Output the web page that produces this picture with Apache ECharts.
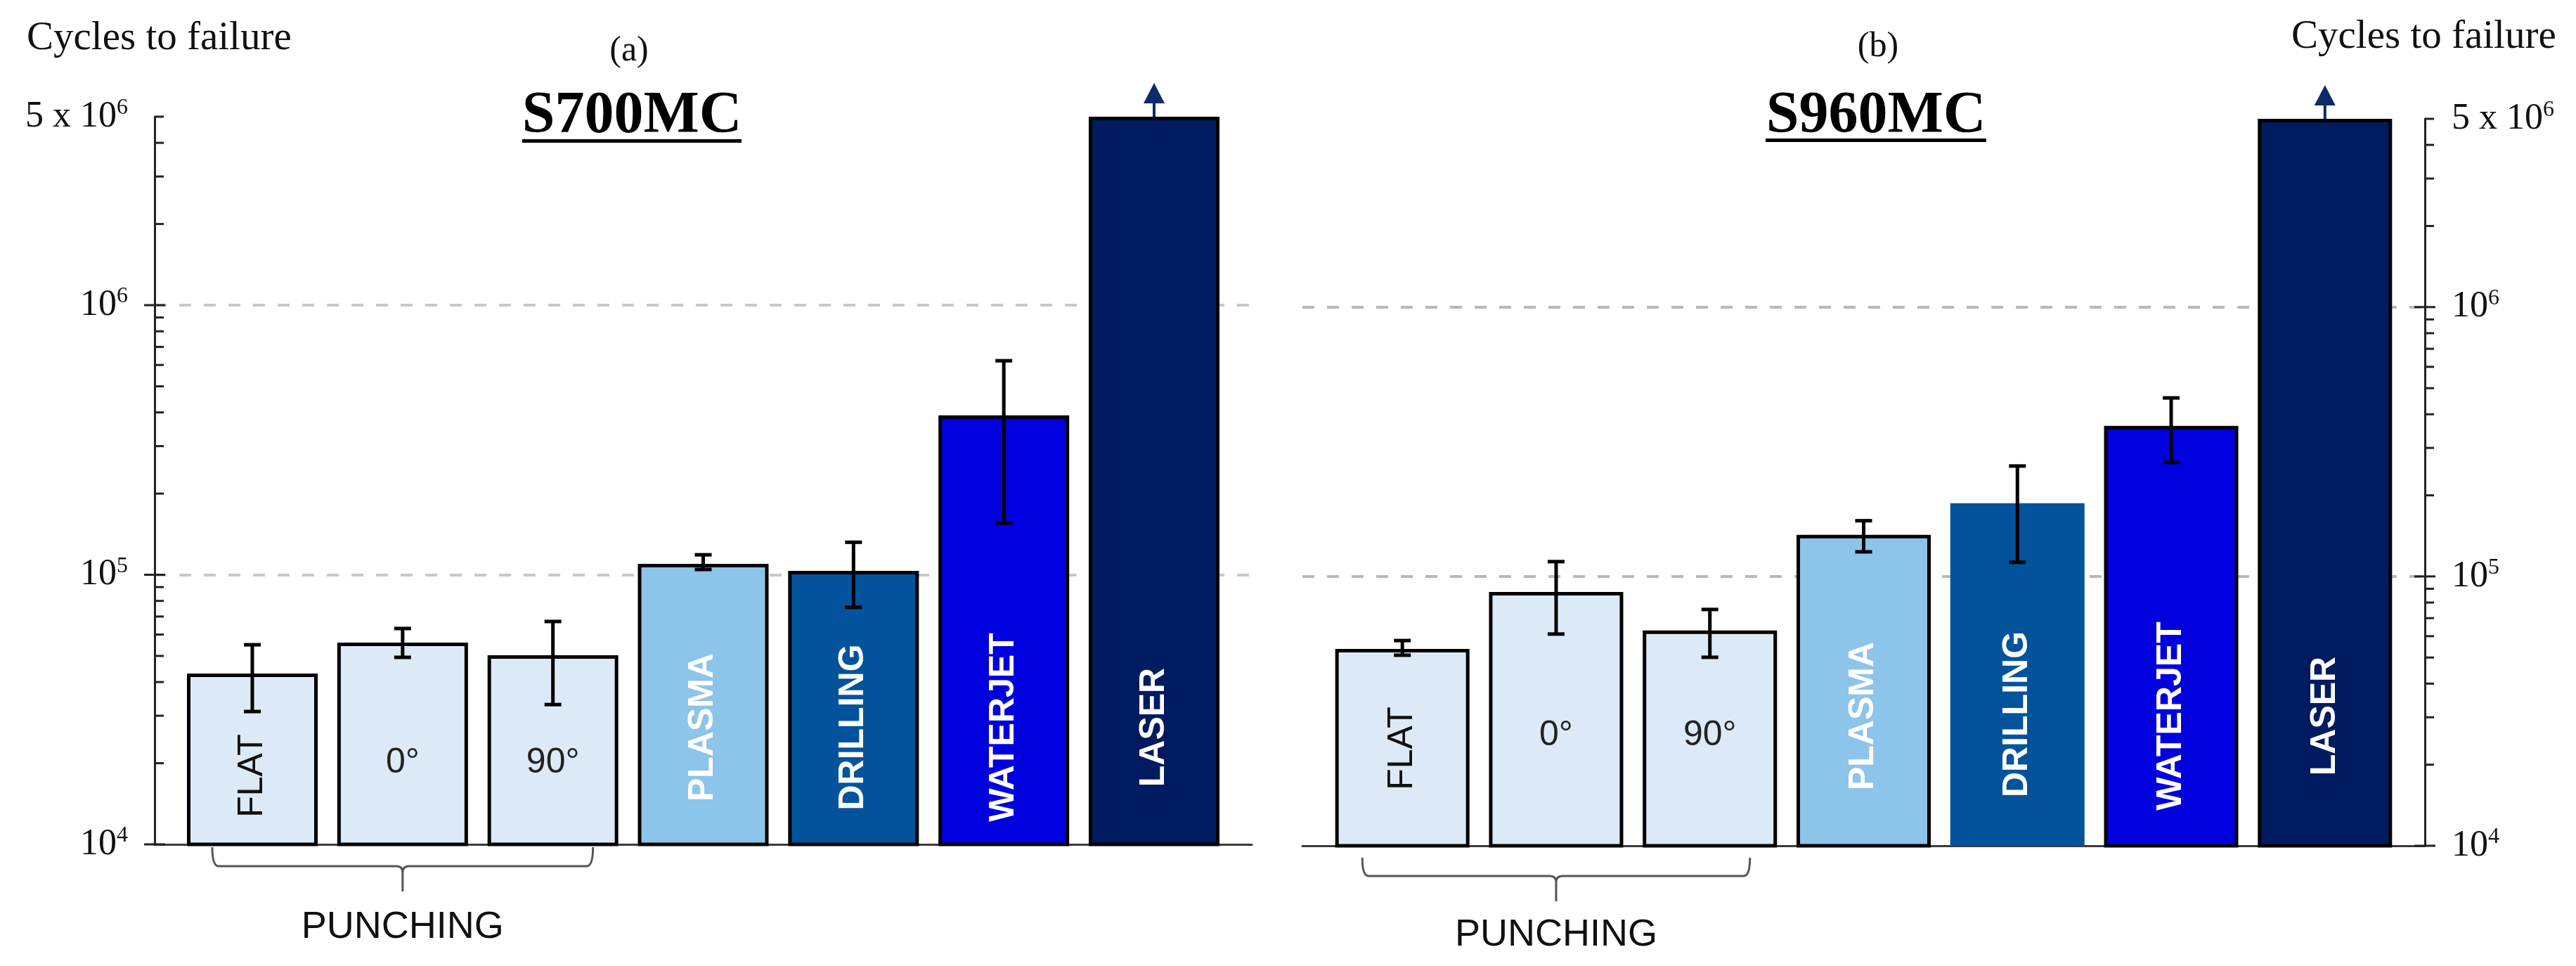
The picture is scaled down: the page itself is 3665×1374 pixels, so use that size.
<!DOCTYPE html>
<html>
<head>
<meta charset="utf-8">
<script src="https://cdn.jsdelivr.net/npm/echarts@6/dist/echarts.min.js"></script>
<style>
html,body{margin:0;padding:0;background:#ffffff;}
#chart{width:3665px;height:1374px;}
</style>
</head>
<body>
<div id="chart"></div>
<script>
// ---------------- DATA ----------------
const categories = ['FLAT', '0°', '90°', 'PLASMA', 'DRILLING', 'WATERJET', 'LASER'];

const s700Values  = [43000, 56000, 50300, 109700, 103300, 390000, 5000000];
const s700ErrLow  = [31100, 49400, 33000, 104600, 75700, 155500, null];
const s700ErrHigh = [55000, 63200, 67100, 118600, 132000, 622000, null];

const s960Values  = [53800, 87600, 63000, 142600, 187000, 362000, 5000000];
const s960ErrLow  = [51000, 61100, 50100, 123400, 112800, 265000, null];
const s960ErrHigh = [57800, 113500, 75400, 161000, 257000, 460000, null];

const runoutIndex = 6;          // LASER: run-out (arrow)
const punchingGroup = [0, 2];   // FLAT .. 90° grouped as PUNCHING

const yMin = 1e4, yMax = 5e6;
const majorTickValues = [1e4, 1e5, 1e6];
const minorTickValues = [2e4, 3e4, 4e4, 5e4, 6e4, 7e4, 8e4, 9e4,
                         2e5, 3e5, 4e5, 5e5, 6e5, 7e5, 8e5, 9e5,
                         2e6, 3e6, 4e6, 5e6];

// ---------------- STYLE ----------------
const barColors = ['#DCEAF7', '#DCEAF7', '#DCEAF7', '#8DC4E9', '#02539C', '#0000DF', '#001B5F'];
const labelKinds = ['rotDark', 'flatDark', 'flatDark', 'rotLight', 'rotLight', 'rotLight', 'rotLight'];
const SERIF = '"Liberation Serif", "Times New Roman", serif';
const SANS = '"Liberation Sans", Arial, sans-serif';

const panels = [
  { grid: 0, values: s700Values, lo: s700ErrLow, hi: s700ErrHigh, barWidth: 186,
    axisX: -0.65, noBorder: [], labelDist: { rotDark: 100, flatDark: 118, rotLight: 169 },
    bracket: { top: 4, horiz: 31, stem: 67, text: 118 } },
  { grid: 1, values: s960Values, lo: s960ErrLow, hi: s960ErrHigh, barWidth: 191,
    axisX: 6.65, noBorder: [4], labelDist: { rotDark: 141, flatDark: 159, rotLight: 187 },
    bracket: { top: 17, horiz: 43, stem: 79, text: 127 } }
];

function labelFor(kind, dist) {
  const base = { show: true, position: 'insideBottom', distance: dist, align: 'center',
                 verticalAlign: 'middle', fontFamily: SANS, fontSize: 50,
                 formatter: p => p.name };
  if (kind === 'rotDark') return Object.assign(base, { rotate: 90, color: '#111', fontWeight: 'normal' });
  if (kind === 'flatDark') return Object.assign(base, { rotate: 0, color: '#222', fontWeight: 'normal' });
  return Object.assign(base, { rotate: 90, color: '#ffffff', fontWeight: 'bold' });
}

function axisFormatter(v) {
  const e = Math.floor(Math.log10(v) + 1e-9);
  const m = Math.round(v / Math.pow(10, e));
  if (m === 1) return '{b|10}{s|' + e + '}';
  return '{b|' + m + ' x 10}{s|' + e + '}';
}
const axisRich = {
  b: { fontFamily: SERIF, fontSize: 52, color: '#111', lineHeight: 56 },
  s: { fontFamily: SERIF, fontSize: 32, color: '#111', verticalAlign: 'top', lineHeight: 56 }
};

function renderErr(params, api) {
  const x = api.value(0);
  const lo = api.coord([x, api.value(1)]);
  const hi = api.coord([x, api.value(2)]);
  const c = 12, st = { stroke: '#000', lineWidth: 5 };
  return { type: 'group', children: [
    { type: 'line', shape: { x1: lo[0], y1: lo[1], x2: hi[0], y2: hi[1] }, style: st },
    { type: 'line', shape: { x1: lo[0] - c, y1: lo[1], x2: lo[0] + c, y2: lo[1] }, style: st },
    { type: 'line', shape: { x1: hi[0] - c, y1: hi[1], x2: hi[0] + c, y2: hi[1] }, style: st }
  ]};
}

function renderArrow(params, api) {
  const p = api.coord([api.value(0), api.value(1)]);
  return { type: 'group', children: [
    { type: 'line', shape: { x1: p[0], y1: p[1], x2: p[0], y2: p[1] - 22 },
      style: { stroke: '#0D2B6B', lineWidth: 4 } },
    { type: 'polygon', shape: { points: [[p[0] - 15, p[1] - 19], [p[0] + 15, p[1] - 19], [p[0], p[1] - 48]] },
      style: { fill: '#0D2B6B' } }
  ]};
}

function renderTick(params, api) {
  const p = api.coord([api.value(0), api.value(1)]);
  const major = api.value(2) === 1;
  return { type: 'line',
    shape: { x1: major ? p[0] - 15 : p[0], y1: p[1], x2: p[0] + (major ? 15 : 13), y2: p[1] },
    style: { stroke: '#222', lineWidth: 3 } };
}

function makeBracketRenderer(b) {
  return function (params, api) {
    const a = api.coord([api.value(0), api.value(1)]);
    const e = api.coord([api.value(2), api.value(1)]);
    const x0 = a[0] - 57, x1 = e[0] + 57, xc = (x0 + x1) / 2;
    const yt = a[1] + b.top, yh = a[1] + b.horiz, ys = a[1] + b.stem;
    const r = 9;
    const path = 'M' + x0 + ',' + yt +
      ' Q' + x0 + ',' + yh + ' ' + (x0 + r) + ',' + yh +
      ' L' + (xc - r) + ',' + yh +
      ' Q' + xc + ',' + yh + ' ' + xc + ',' + (yh + r) +
      ' L' + xc + ',' + ys +
      ' M' + xc + ',' + (yh + r) +
      ' Q' + xc + ',' + yh + ' ' + (xc + r) + ',' + yh +
      ' L' + (x1 - r) + ',' + yh +
      ' Q' + x1 + ',' + yh + ' ' + x1 + ',' + yt;
    return { type: 'group', children: [
      { type: 'path', shape: { pathData: path }, style: { stroke: '#555', lineWidth: 3, fill: null } },
      { type: 'text', x: xc, y: a[1] + b.text,
        style: { text: 'PUNCHING', fontFamily: SANS, fontSize: 54, fill: '#111',
                 align: 'center', verticalAlign: 'middle' } }
    ]};
  };
}

// ---------------- BUILD ----------------
const series = [];
panels.forEach(pn => {
  const g = pn.grid;
  series.push({
    type: 'bar', xAxisIndex: g, yAxisIndex: g, barWidth: pn.barWidth, clip: true, z: 2,
    data: pn.values.map((v, i) => ({
      name: categories[i], value: [i, v],
      itemStyle: { color: barColors[i],
                   borderColor: pn.noBorder.indexOf(i) >= 0 ? barColors[i] : '#000',
                   borderWidth: pn.noBorder.indexOf(i) >= 0 ? 0 : 5 },
      label: labelFor(labelKinds[i], pn.labelDist[labelKinds[i]])
    }))
  });
  series.push({
    type: 'custom', xAxisIndex: g, yAxisIndex: g, z: 5, clip: false, silent: true,
    renderItem: renderErr,
    data: pn.values.map((v, i) => [i, pn.lo[i], pn.hi[i]]).filter(d => d[1] != null)
  });
  series.push({
    type: 'custom', xAxisIndex: g, yAxisIndex: g, z: 5, clip: false, silent: true,
    renderItem: renderArrow, data: [[runoutIndex, pn.values[runoutIndex]]]
  });
  series.push({
    type: 'custom', xAxisIndex: g, yAxisIndex: g, z: 6, clip: false, silent: true,
    renderItem: renderTick,
    data: minorTickValues.map(v => [pn.axisX, v, 0]).concat(majorTickValues.map(v => [pn.axisX, v, 1]))
  });
  series.push({
    type: 'custom', xAxisIndex: g, yAxisIndex: g, z: 5, clip: false, silent: true,
    renderItem: makeBracketRenderer(pn.bracket),
    data: [[punchingGroup[0], yMin, punchingGroup[1]]]
  });
});

function xAxisFor(g) {
  return { gridIndex: g, type: 'value', min: -0.65, max: 6.65,
    axisLine: { show: true, onZero: false, lineStyle: { color: '#3a3a3a', width: 3 } },
    axisTick: { show: false }, axisLabel: { show: false }, splitLine: { show: false } };
}
function yAxisFor(g, pos, gridColor) {
  return { gridIndex: g, type: 'log', logBase: 10, min: yMin, max: yMax, position: pos,
    axisLine: { show: true, onZero: false, lineStyle: { color: '#222', width: 3 } },
    axisTick: { show: false }, minorTick: { show: false },
    axisLabel: { margin: 38, formatter: axisFormatter, rich: axisRich },
    splitLine: { show: true, showMinLine: false, showMaxLine: false,
                 lineStyle: { type: [17, 18], color: gridColor, width: 4 } } };
}

const graphic = [
  { type: 'text', x: 38, y: 55, style: { text: 'Cycles to failure', fontFamily: SERIF, fontSize: 57,
      fill: '#111', align: 'left', verticalAlign: 'middle' } },
  { type: 'text', x: 3260, y: 53, style: { text: 'Cycles to failure', fontFamily: SERIF, fontSize: 57,
      fill: '#111', align: 'left', verticalAlign: 'middle' } },
  { type: 'text', x: 895, y: 73, style: { text: '(a)', fontFamily: SERIF, fontSize: 50,
      fill: '#111', align: 'center', verticalAlign: 'middle' } },
  { type: 'text', x: 2672, y: 67, style: { text: '(b)', fontFamily: SERIF, fontSize: 50,
      fill: '#111', align: 'center', verticalAlign: 'middle' } },
  { type: 'text', x: 899, y: 166, style: { text: 'S700MC', fontFamily: SERIF, fontSize: 84, fontWeight: 'bold',
      fill: '#000', align: 'center', verticalAlign: 'middle' } },
  { type: 'text', x: 2669, y: 166, style: { text: 'S960MC', fontFamily: SERIF, fontSize: 84, fontWeight: 'bold',
      fill: '#000', align: 'center', verticalAlign: 'middle' } },
  { type: 'rect', shape: { x: 743, y: 198, width: 312, height: 5 }, style: { fill: '#000' } },
  { type: 'rect', shape: { x: 2512, y: 197, width: 314, height: 5 }, style: { fill: '#000' } }
];

const option = {
  animation: false,
  backgroundColor: '#ffffff',
  textStyle: { fontFamily: SANS },
  grid: [
    { left: 220, top: 166, width: 1561, height: 1035 },
    { left: 1853, top: 169, width: 1597, height: 1034 }
  ],
  xAxis: [xAxisFor(0), xAxisFor(1)],
  yAxis: [yAxisFor(0, 'left', '#c8c8c8'), yAxisFor(1, 'right', '#b8b8b8')],
  series: series,
  graphic: graphic
};

const chart = echarts.init(document.getElementById('chart'), null, { renderer: 'canvas' });
chart.setOption(option);
</script>
</body>
</html>
